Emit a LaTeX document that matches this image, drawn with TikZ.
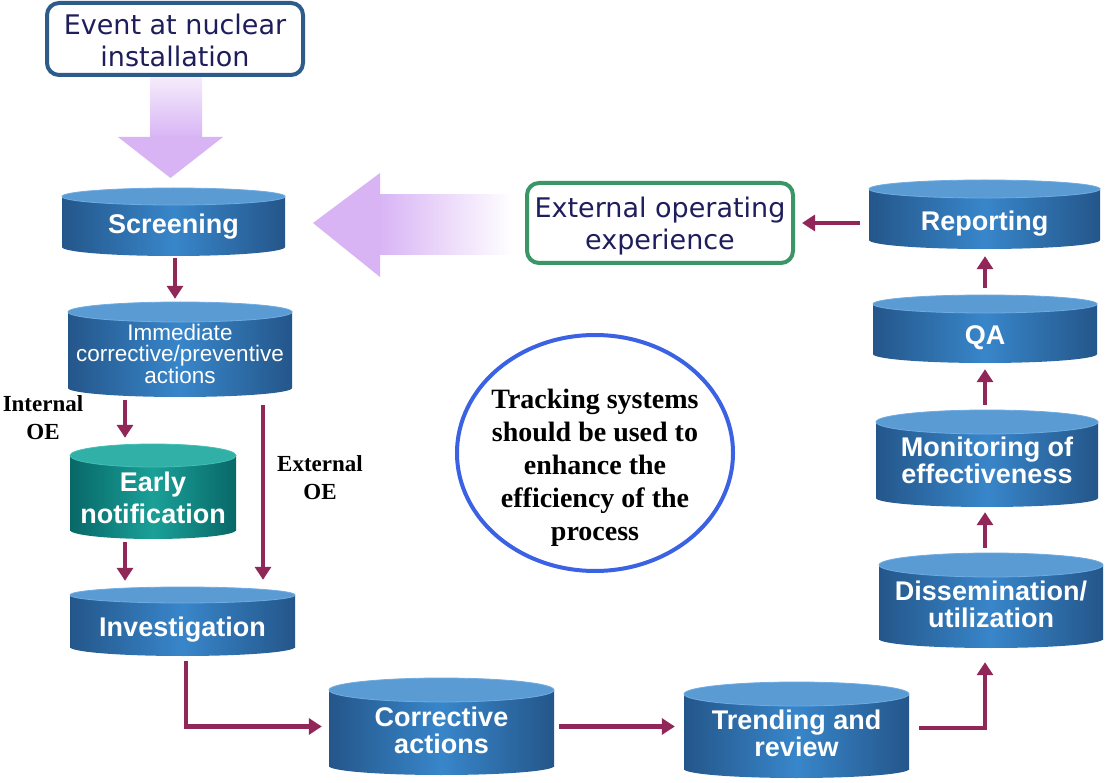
\documentclass[tikz,border=0pt]{standalone}
\usepackage{fontspec}
\setmainfont{Liberation Serif}
\newfontfamily\arialf{Liberation Sans}
\newfontfamily\tahomaf{DejaVu Sans}
\usetikzlibrary{arrows.meta,calc,shapes.geometric}
\definecolor{blueedge}{RGB}{36,86,138}
\definecolor{bluemid}{RGB}{56,134,202}
\definecolor{bluetop}{RGB}{90,155,212}
\definecolor{bluerim}{RGB}{112,172,226}
\definecolor{tealedge}{RGB}{8,104,104}
\definecolor{tealmid}{RGB}{26,160,152}
\definecolor{tealtop}{RGB}{48,176,166}
\definecolor{tealrim}{RGB}{70,190,180}
\definecolor{arrc}{RGB}{145,38,88}
\definecolor{lav}{RGB}{216,180,245}
\definecolor{lavtop}{RGB}{246,238,252}
\definecolor{evblue}{RGB}{45,92,138}
\definecolor{extgreen}{RGB}{58,150,102}
\definecolor{navy}{RGB}{30,30,92}
\definecolor{ellblue}{RGB}{60,98,228}
\def\cylfont{\arialf\bfseries\fontsize{27}{30}\selectfont}
% #1 name, #2 cx, #3 top-centre y, #4 bottom-centre y, #5 half width,
% #6 ry top, #7 text offset, #8 colour, #9 text
\newcommand\cyl[9]{%
  \shade[left color=#8edge,right color=#8edge,middle color=#8mid] (#2-#5,#3) rectangle (#2+#5,#4);
  \shade[left color=#8edge,right color=#8edge,middle color=#8mid] (#2,#4) ellipse [x radius=#5,y radius=9];
  \fill[#8top, draw=#8rim, line width=0.8pt] (#2,#3) ellipse [x radius=#5, y radius=#6];
  \pgfmathsetmacro\cyh{#4+9-#3+#6}%
  \pgfmathsetmacro\cyc{(#3-#6+#4+9)/2}%
  \pgfmathsetmacro\cyt{(#3-#6+#4+9)/2+#7}%
  \pgfmathsetmacro\cyw{2*#5}%
  \node[inner sep=0pt, minimum width=\cyw pt, minimum height=\cyh pt] (#1) at (#2,\cyc) {};
  \node[cyltext] (#1txt) at (#2,\cyt) {#9};
}
\begin{document}
\begin{tikzpicture}[x=1pt,y=-1pt,
  cyltext/.style={text=white, font=\cylfont, align=center, inner sep=0pt},
  arr/.style={draw=arrc, line width=4.5pt, -{Triangle[width=16pt,length=13pt]}},
  lbl/.style={font=\bfseries\fontsize{23}{28}\selectfont, align=center, inner sep=0pt},
  tbox/.style={rounded corners=12pt, line width=4pt, fill=white},
  btext/.style={text=navy, font=\tahomaf\fontsize{27}{32}\selectfont, align=center, inner sep=0pt}]
\useasboundingbox[fill=white] (0,0) rectangle (1109,783);

% big shaded arrows
\shade[top color=lavtop, bottom color=lav] (150,75) rectangle (202,138);
\fill[lav] (118,137) -- (223,137) -- (170.5,178) -- cycle;
\shade[left color=lav, right color=white] (379,195) rectangle (513,255);
\fill[lav] (313,223) -- (380,173) -- (380,277) -- cycle;

% boxes
\node[tbox, draw=evblue, minimum width=256pt, minimum height=72pt] (event) at (175,39) {};
\node[btext] (eventtxt) at (175,40) {Event at nuclear\\installation};
\node[tbox, draw=extgreen, minimum width=266pt, minimum height=80pt] (ext) at (660,223) {};
\node[btext] (exttxt) at (660,226) {External operating\\experience};

% cylinders
\cyl{scr}{173.5}{196.5}{247}{111.5}{8.5}{5}{blue}{Screening}
\def\cylfont{\arialf\fontsize{22.5}{21.5}\selectfont}
\cyl{imm}{180}{312}{388}{112}{10}{4}{blue}{Immediate\\corrective/preventive\\actions}
\def\cylfont{\arialf\bfseries\fontsize{27}{32}\selectfont}
\cyl{early}{153}{455.5}{530}{83}{11.5}{6}{teal}{Early\\notification}
\def\cylfont{\arialf\bfseries\fontsize{27}{30}\selectfont}
\cyl{inv}{182.5}{595}{647}{112.5}{8}{8}{blue}{Investigation}
\def\cylfont{\arialf\bfseries\fontsize{27}{27}\selectfont}
\cyl{cor}{441.5}{690}{766}{112.5}{12}{4}{blue}{Corrective\\actions}
\cyl{trd}{796.5}{694}{769}{112.5}{12}{3}{blue}{Trending and\\review}
\cyl{dis}{991}{565}{639}{112}{12}{4}{blue}{Dissemination/\\utilization}
\cyl{mon}{987}{422}{498}{111}{12}{2}{blue}{Monitoring of\\effectiveness}
\def\cylfont{\arialf\bfseries\fontsize{27}{30}\selectfont}
\cyl{qa}{985}{304}{354}{112}{9}{9}{blue}{QA}
\cyl{rep}{984.5}{189}{240}{115.5}{9}{9}{blue}{Reporting}

% tracking ellipse
\node[ellipse, draw=ellblue, line width=4pt, minimum width=276pt, minimum height=236pt, inner sep=0pt] (trk) at (595,453) {};
\node[font=\bfseries\fontsize{28}{33}\selectfont, align=center, inner sep=0pt] (trktxt) at (595,468)
  {Tracking systems\\should be used to\\enhance the\\efficiency of the\\process};

% labels
\node[lbl] (intl) at (43,418) {Internal\\OE};
\node[lbl] (extl) at (320,478) {External\\OE};

% connectors
\draw[arr, shorten <=2pt, shorten >=3pt] (175,0 |- scr.south) -- (175,0 |- imm.north);
\draw[arr, shorten <=3pt, shorten >=6pt] (125,0 |- imm.south) -- (125,0 |- early.north);
\draw[arr, shorten <=8pt, shorten >=7pt] (263,0 |- imm.south) -- (263,0 |- inv.north);
\draw[arr, shorten <=3pt, shorten >=6pt] (125,0 |- early.south) -- (125,0 |- inv.north);
\draw[arr, shorten <=5pt, shorten >=7pt] (186,0 |- inv.south) |- (cor.west);
\draw[arr, shorten <=5pt, shorten >=9pt] (cor.east) -- (cor.east -| trd.west);
\draw[arr, shorten <=10pt, shorten >=14pt] ([yshift=2pt]trd.east) -| ([xshift=-6pt]dis.south);
\draw[arr, shorten <=5pt, shorten >=5pt] (985,0 |- dis.north) -- (985,0 |- mon.south);
\draw[arr, shorten <=5pt, shorten >=6pt] (985,0 |- mon.north) -- (985,0 |- qa.south);
\draw[arr, shorten <=7pt, shorten >=7pt] (985,0 |- qa.north) -- (985,0 |- rep.south);
\draw[arr, shorten <=9pt, shorten >=7pt] (ext.east -| rep.west) -- (ext.east);
\end{tikzpicture}
\end{document}
